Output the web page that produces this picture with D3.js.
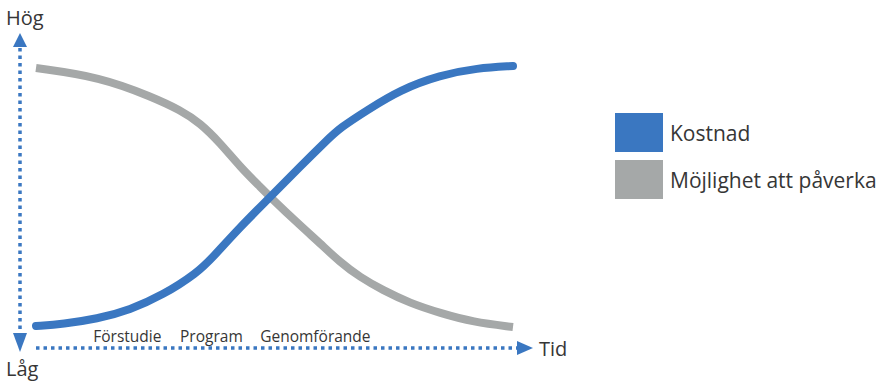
<!DOCTYPE html>
<html>
<head>
<meta charset="utf-8">
<script src="https://cdn.jsdelivr.net/npm/d3@7"></script>
<style>
  body { margin: 0; background: #fff; }
  text { font-family: "Open Sans", "Noto Sans", sans-serif; fill: #363636; }
</style>
</head>
<body>
<div id="chart"></div>
<script>
// time (0-100) vs level (0-100)
const kostnad = [
    [0, 0], [5.7, 0.8], [12.8, 2.7], [19.7, 6.2], [26.6, 11.9], [33.8, 20.4], [37.1, 26.5],
    [42.8, 38.1], [49.1, 49.6], [55.3, 61.2], [61, 71.5], [63.7, 76.2], [69.4, 83],
    [76.3, 90.8], [84.7, 96.5], [92.5, 99.2], [100, 100]
];
const mojlighet = [
    [0, 99.2], [13.4, 95.8], [24.5, 88], [30.2, 83.1], [34.4, 78.1], [38.6, 70.4],
    [42.8, 61.2], [47, 53.5], [49.1, 49.6], [55.3, 38.8], [59.5, 31.9], [63.7, 24.6],
    [67.9, 18.8], [72.7, 13.8], [78.4, 8.8], [84.7, 5], [91.6, 1.5], [100, -0.4]
];
const phases = ["Förstudie", "Program", "Genomförande"];
const phaseStart = [12, 30.2, 47];
const legendLabels = ["Kostnad", "Möjlighet att påverka"];
const colors = ["#3a77c1", "#a5a8a8"];

const width = 892, height = 382;
const svg = d3.select("#chart").append("svg")
    .attr("width", width)
    .attr("height", height);

const x = d3.scaleLinear().domain([0, 100]).range([36, 513]);
const y = d3.scaleLinear().domain([0, 100]).range([326, 66]);

const axisColor = "#3a77c1";
const axisX = 20, axisY = 348;

// vertical axis (dotted, arrows both ends)
svg.append("line")
    .attr("x1", axisX).attr("x2", axisX)
    .attr("y1", 48).attr("y2", 333)
    .attr("stroke", axisColor)
    .attr("stroke-width", 3.5)
    .attr("stroke-dasharray", "3.5,4");
svg.append("path")
    .attr("d", `M${axisX},33 L${axisX - 7},47 L${axisX + 7},47 Z`)
    .attr("fill", axisColor);
svg.append("path")
    .attr("d", `M${axisX},352 L${axisX - 7},333 L${axisX + 7},333 Z`)
    .attr("fill", axisColor);

// horizontal axis
svg.append("line")
    .attr("x1", 36).attr("x2", 517)
    .attr("y1", axisY).attr("y2", axisY)
    .attr("stroke", axisColor)
    .attr("stroke-width", 3.5)
    .attr("stroke-dasharray", "3.5,4");
svg.append("path")
    .attr("d", `M533,${axisY} L517,${axisY - 7} L517,${axisY + 7} Z`)
    .attr("fill", axisColor);

svg.append("text").attr("x", 6).attr("y", 25).attr("font-size", 20).text("Hög");
svg.append("text").attr("x", 6).attr("y", 376).attr("font-size", 20).text("Låg");
svg.append("text").attr("x", 539).attr("y", 356).attr("font-size", 20).text("Tid");

// phase labels
svg.selectAll(".phase")
    .data(phases)
    .join("text")
    .attr("class", "phase")
    .attr("x", (d, i) => x(phaseStart[i]))
    .attr("y", 342)
    .attr("font-size", 15.5)
    .text(d => d);

// curves
const line = d3.line()
    .x(d => x(d[0]))
    .y(d => y(d[1]))
    .curve(d3.curveBasis);

svg.append("path")
    .datum(mojlighet)
    .attr("d", line)
    .attr("fill", "none")
    .attr("stroke", colors[1])
    .attr("stroke-width", 8);

svg.append("path")
    .datum(kostnad)
    .attr("d", line)
    .attr("fill", "none")
    .attr("stroke", colors[0])
    .attr("stroke-width", 8)
    .attr("stroke-linecap", "round");

// legend
const legend = svg.selectAll(".legend")
    .data(legendLabels)
    .join("g")
    .attr("class", "legend")
    .attr("transform", (d, i) => "translate(615 " + (113 + i * 47) + ")");
legend.append("rect")
    .attr("width", 48)
    .attr("height", 39)
    .attr("fill", (d, i) => colors[i]);
legend.append("text")
    .attr("x", 55)
    .attr("y", 28)
    .attr("font-size", 21)
    .text(d => d);
</script>
</body>
</html>
